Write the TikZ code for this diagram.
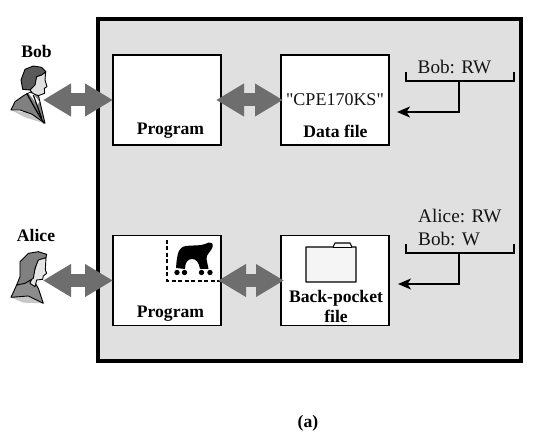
\documentclass[tikz,border=0pt]{standalone}
\usepackage{fontspec}
\setmainfont{Liberation Serif}
\newfontfamily\plainf{Liberation Serif}
\usetikzlibrary{arrows.meta}
\definecolor{panel}{HTML}{E0E0E0}
\definecolor{fat}{HTML}{6E6E6E}
\tikzset{
  boxn/.style={draw=black,line width=1.6pt,fill=white,minimum width=108pt,minimum height=90pt,inner sep=0pt,outer sep=0pt},
  bold/.style={font=\fontsize{17.6}{17.6}\selectfont\bfseries,inner sep=0pt,anchor=base},
  plain/.style={font=\plainf\fontsize{19.2}{19.2}\selectfont,inner sep=0pt,text=black!92,anchor=base},
  fatarrow/.style={draw=fat,line width=13pt,{Triangle[length=28pt,width=31pt]}-{Triangle[length=28pt,width=31pt]}},
  acl/.style={draw=black,line width=1.5pt,line cap=rect},
  aclarrow/.style={draw=black,line width=1.5pt,-{Stealth[length=13pt,width=11pt,inset=3.5pt]}},
  line/.style={draw=black,line width=.9pt,line join=round}
}
\begin{document}
\begin{tikzpicture}[x=1pt,y=-1pt]
\useasboundingbox (0,0) rectangle (543,443);
\fill[white] (0,0) rectangle (543,443);
\node[draw=black,line width=3.2pt,fill=panel,minimum width=423pt,minimum height=342pt,inner sep=0pt,outer sep=0pt] (frame) at (309.5,190) {};
\node[boxn] (prog1) at (167,100) {};
\node[boxn] (data) at (335,100) {};
\node[boxn] (prog2) at (167,280.5) {};
\node[boxn] (back) at (335,280.5) {};
\node[bold] (bobname) at (36.5,58) {Bob};
\node[bold] (alicename) at (36,242) {Alice};
\node[bold] (prog1t) at (170.5,135) {Program};
\node[bold] (prog2t) at (170.5,317) {Program};
\node[plain,font=\plainf\fontsize{18}{18}\selectfont] (cpe) at (335,106) {"CPE170KS"};
\node[bold] (datat) at (335.5,137.5) {Data file};
\node[bold] (backt1) at (336,302) {Back-pocket};
\node[bold] (backt2) at (336,323) {file};
\node[plain] (bobrw) at (454.5,74) {Bob: RW};
\node[plain,anchor=base west] (alicerw) at (418,223) {Alice: RW};
\node[plain,anchor=base west] (bobw) at (418,246) {Bob: W};
\node[bold] (cap) at (308,427) {(a)};
% Bob
\begin{scope}[shift={(0,30)},x=.3333pt,y=-.3333pt]
\fill[black!22] (33,240) -- (95,250) -- (133,280) -- (75,262) -- cycle;
\filldraw[line,fill=black!50] (33,240) -- (45,215) -- (72,196) -- (92,186) -- (115,195) -- (135,280) -- (95,252) -- (60,240) -- cycle;
\filldraw[line,fill=black!12] (108,140) -- (125,134) -- (137,126) -- (135,150) -- (141,170) -- (133,175) -- (134,190) -- (115,197) -- (98,190) -- (90,180) -- (103,165) -- cycle;
\filldraw[line,fill=black!65] (68,178) -- (63,150) -- (75,118) -- (100,108) -- (125,112) -- (138,125) -- (125,135) -- (110,140) -- (105,165) -- (90,180) -- cycle;
\fill[white] (85,188) -- (100,192) -- (118,215) -- (112,225) -- cycle;
\draw[line,line width=1.2pt] (80,190) -- (108,240) -- (132,280);
\draw[line,line width=1.2pt] (100,195) -- (125,265);
\end{scope}
% Alice
\begin{scope}[shift={(0,220)},x=.3333pt,y=-.3333pt]
\fill[black!22] (33,232) -- (85,230) -- (130,250) -- (70,248) -- cycle;
\filldraw[line,fill=black!45] (33,232) -- (50,195) -- (75,185) -- (100,180) -- (115,205) -- (130,250) -- (85,228) -- cycle;
\filldraw[line,fill=black!10] (113,118) -- (138,112) -- (136,150) -- (140,160) -- (130,168) -- (128,178) -- (110,180) -- (105,200) -- (90,190) -- (100,165) -- cycle;
\filldraw[line,fill=black!50] (60,170) -- (60,125) -- (85,100) -- (115,95) -- (140,103) -- (138,113) -- (115,120) -- (105,145) -- (100,175) -- (75,190) -- (50,195) -- cycle;
\end{scope}
\coordinate (bobp) at (43,100);
\coordinate (alicep) at (43,280.5);
\draw[fatarrow] (bobp) -- (prog1.west);
\draw[fatarrow] (alicep) -- (prog2.west);
\draw[fatarrow] ([xshift=-5pt]prog1.east) -- ([xshift=2pt]data.west);
% dashed region and creature
\coordinate (dasha) at (167,240);
\coordinate (dashb) at (167,281);
\coordinate (dashc) at (221,281);
\draw[black,line width=1.8pt,dash pattern=on 4pt off 2.5pt] (dasha) -- (dashb) -- (dashc);
\fill[black] (176,268) .. controls (177,255) and (178,247) .. (186,246) .. controls (195,245) and (200,246) .. (205,244) .. controls (210,241) and (214,243) .. (212.5,247) .. controls (211,252) and (206,254) .. (206.5,259) -- (208.5,269) -- (200,269) .. controls (199,262) and (196,259) .. (192,259) .. controls (188,259) and (185,262) .. (185,269) -- cycle;
\foreach \wx in {177,184.5,201.5,210} \fill[black] (\wx,272.5) circle (2.7pt);
\draw[fatarrow] ([xshift=-3pt]prog2.east) -- ([xshift=3pt]back.west);
% folder
\filldraw[line,fill=black!4,line width=1.1pt] (306,247) -- (333,247) -- (335,243) -- (350,243) -- (352,247) -- (356,247) -- (356,282) -- (306,282) -- cycle;
\draw[line,line width=.7pt] (333,247) -- (352,247);
% ACL brackets
\coordinate (t1a) at (406,73); \coordinate (t1b) at (406,81); \coordinate (t1c) at (514,81); \coordinate (t1d) at (514,73);
\coordinate (t1s) at (459,81); \coordinate (t1e) at (459,112); \coordinate (t1f) at (397,112);
\draw[acl] (t1a) -- (t1b) -- (t1c) -- (t1d);
\draw[aclarrow] (t1s) -- (t1e) -- (t1f);
\coordinate (t2a) at (406,245); \coordinate (t2b) at (406,253); \coordinate (t2c) at (514,253); \coordinate (t2d) at (514,245);
\coordinate (t2s) at (459,253); \coordinate (t2e) at (459,284); \coordinate (t2f) at (398,284);
\draw[acl] (t2a) -- (t2b) -- (t2c) -- (t2d);
\draw[aclarrow] (t2s) -- (t2e) -- (t2f);
\end{tikzpicture}
\end{document}
